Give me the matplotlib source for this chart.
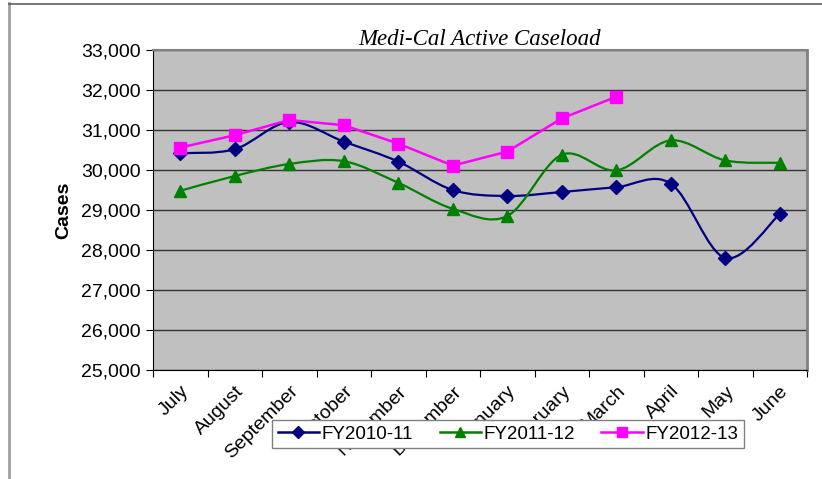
import matplotlib
matplotlib.use('Agg')
import matplotlib.pyplot as plt
from matplotlib.path import Path
from matplotlib.patches import PathPatch
from matplotlib.ticker import FuncFormatter, MultipleLocator
from matplotlib.lines import Line2D

# Data
months = ['July', 'August', 'September', 'October', 'November', 'December',
          'January', 'February', 'March', 'April', 'May', 'June']
fy2010 = [30420, 30520, 31200, 30710, 30210, 29500, 29350, 29450, 29570, 29660, 27800, 28900]
fy2011 = [29480, 29850, 30150, 30220, 29680, 29030, 28850, 30380, 29990, 30740, 30240, 30180]
fy2012 = [30560, 30870, 31250, 31120, 30660, 30110, 30460, 31290, 31830]

navy = '#000080'
green = '#008000'
pink = '#FF00FF'


def smooth_path(xs, ys):
    # Excel-style smoothed line: Catmull-Rom as cubic Bezier segments
    n = len(xs)
    verts = [(xs[0], ys[0])]
    codes = [Path.MOVETO]
    for i in range(n - 1):
        x0, y0 = (xs[i - 1], ys[i - 1]) if i > 0 else (xs[i], ys[i])
        x1, y1 = xs[i], ys[i]
        x2, y2 = xs[i + 1], ys[i + 1]
        x3, y3 = (xs[i + 2], ys[i + 2]) if i + 2 < n else (x2, y2)
        c1 = (x1 + (x2 - x0) / 6, y1 + (y2 - y0) / 6)
        c2 = (x2 - (x3 - x1) / 6, y2 - (y3 - y1) / 6)
        verts += [c1, c2, (x2, y2)]
        codes += [Path.CURVE4] * 3
    return Path(verts, codes)


fig = plt.figure(figsize=(8.22, 4.79), dpi=100)
ax = fig.add_axes([153 / 822, 1 - 370 / 479, 654 / 822, 320 / 479])
ax.set_facecolor('#C0C0C0')

x = list(range(len(months)))

ax.add_patch(PathPatch(smooth_path(x, fy2010), facecolor='none', edgecolor=navy, lw=1.6, zorder=3))
ax.plot(x, fy2010, ls='none', marker='D', ms=7, color=navy, zorder=4)

ax.add_patch(PathPatch(smooth_path(x, fy2011), facecolor='none', edgecolor=green, lw=1.6, zorder=3))
ax.plot(x, fy2011, ls='none', marker='^', ms=9, color=green, zorder=4)

ax.plot(range(len(fy2012)), fy2012, color=pink, lw=1.8, marker='s', ms=9, zorder=5)

ax.set_xlim(-0.5, 11.5)
ax.set_ylim(25000, 33000)
ax.yaxis.set_major_locator(MultipleLocator(1000))
ax.yaxis.set_major_formatter(FuncFormatter(lambda v, p: f'{int(v):,}'))
ax.grid(axis='y', color='#333333', lw=1)
ax.set_axisbelow(True)

fs = 14
ax.set_xticks([i - 0.5 for i in range(13)])
ax.set_xticklabels([])
ax.set_xticks(x, minor=True)
ax.set_xticklabels(months, minor=True, rotation=45, ha='right', va='top',
                   rotation_mode='anchor', fontsize=fs, family='Liberation Sans')
ax.tick_params(axis='x', which='minor', length=0, pad=9)
ax.tick_params(axis='x', which='major', length=5, color='black')
ax.tick_params(axis='y', length=5, labelsize=fs, pad=4)
for lab in ax.get_yticklabels():
    lab.set_family('Liberation Sans')

ax.spines['left'].set_color('black')
ax.spines['bottom'].set_color('black')
ax.spines['top'].set_color('#808080')
ax.spines['right'].set_color('#808080')
ax.spines['right'].set_linewidth(2)
ax.spines['top'].set_linewidth(1.5)

ax.set_ylabel('Cases', fontsize=fs, fontweight='bold', family='Liberation Sans', labelpad=6)
ax.set_title('Medi-Cal Active Caseload', fontsize=16.5, style='italic',
             family='Liberation Serif', pad=2)

handles = [
    Line2D([0], [0], color=navy, lw=1.8, marker='D', ms=6),
    Line2D([0], [0], color=green, lw=1.8, marker='^', ms=7),
    Line2D([0], [0], color=pink, lw=1.8, marker='s', ms=7),
]
leg = fig.legend(handles, ['FY2010-11', 'FY2011-12', 'FY2012-13'], ncol=3,
                 loc='center', bbox_to_anchor=(508 / 822, 1 - 434 / 479),
                 frameon=True, fancybox=False, framealpha=1, edgecolor='#808080',
                 prop={'family': 'Liberation Sans', 'size': 13.5},
                 handlelength=2.2, columnspacing=1.4, handletextpad=0.15,
                 borderpad=0.3)
leg.get_frame().set_linewidth(1)
leg.set_zorder(10)

# outer chart frame
fig.add_artist(Line2D([9 / 822, 9 / 822], [0, 1 - 3 / 479], color='#A0A0A0', lw=2,
                      transform=fig.transFigure))
fig.add_artist(Line2D([9 / 822, 1], [1 - 4 / 479, 1 - 4 / 479], color='#606060', lw=1.2,
                      transform=fig.transFigure))

fig.savefig('out.png', dpi=100)
